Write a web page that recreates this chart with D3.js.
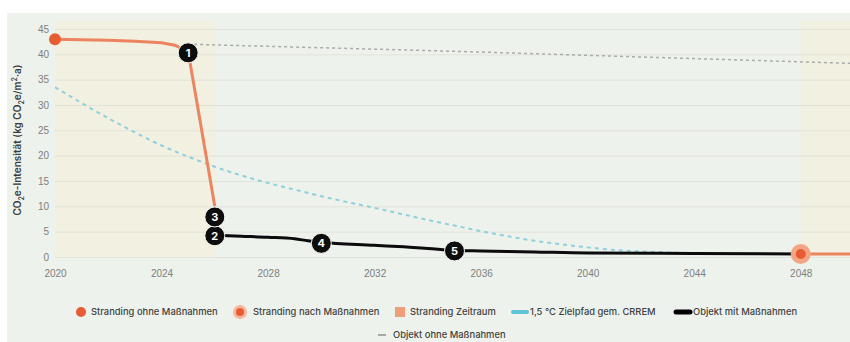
<!DOCTYPE html>
<html>
<head>
<meta charset="utf-8">
<script src="https://cdn.jsdelivr.net/npm/d3@7"></script>
<style>
  body { margin: 0; background: #fff; }
  svg { display: block; font-family: "Inter", "Noto Sans", sans-serif; }
</style>
</head>
<body>
<svg id="viz" width="850" height="342"></svg>
<script>
// Data

var xTicks = [2020, 2024, 2028, 2032, 2036, 2040, 2044, 2048];
var yTicks = [0, 5, 10, 15, 20, 25, 30, 35, 40, 45];

var strandingPeriods = [[2020, 2026], [2048, 2050]];

var ohneMassnahmen = [
	[2020, 43], [2021, 42.9], [2022, 42.8], [2023, 42.6], [2024, 42.3], [2024.5, 41.8], [2025, 40.5],
	[2026, 10]
];
var nachMassnahmen = [[2048, 0.6], [2050, 0.6]];

var zielpfad = [
	[2020, 33.5], [2021, 30.4], [2022, 27.4], [2023, 24.6], [2024, 22], [2025, 19.8], [2026, 17.8],
	[2027, 16.1], [2028, 14.6], [2029, 13.3], [2030, 12], [2031, 10.8], [2032, 9.7], [2033, 8.5],
	[2034, 7.3], [2035, 6.2], [2036, 5.1], [2037, 4.1], [2038, 3.2], [2039, 2.5], [2040, 1.9],
	[2041, 1.4], [2042, 1.1], [2043, 0.9], [2044, 0.7], [2045, 0.6], [2046, 0.6]
];

var mitMassnahmen = [
	[2026, 4.3], [2027, 4.1], [2028, 3.9], [2029, 3.6], [2029.5, 3.2], [2030, 2.9], [2032, 2.3],
	[2034, 1.7], [2035, 1.3], [2036, 1.2], [2038, 1], [2040, 0.8], [2044, 0.7], [2048, 0.6]
];

var objektOhne = [[2025, 42], [2030, 41.3], [2035, 40.6], [2040, 39.8], [2045, 39], [2050, 38.2]];

var markers = [
	{ label: "1", year: 2025, value: 40.3 },
	{ label: "2", year: 2026, value: 4.2 },
	{ label: "3", year: 2026, value: 7.9 },
	{ label: "4", year: 2030, value: 2.7 },
	{ label: "5", year: 2035, value: 1.2 }
];

var legendItems = [
	{ label: "Stranding ohne Maßnahmen", type: "dot", x: 81, y: 312 },
	{ label: "Stranding nach Maßnahmen", type: "halo", x: 240, y: 312 },
	{ label: "Stranding Zeitraum", type: "square", x: 400, y: 312 },
	{ label: "1,5 °C Zielpfad gem. CRREM", type: "blue", x: 520, y: 312 },
	{ label: "Objekt mit Maßnahmen", type: "black", x: 683, y: 312 },
	{ label: "Objekt ohne Maßnahmen", type: "grey", x: 382, y: 335 }
];

var orange = "#e85c33",
	orangeLine = "#ec8460",
	blue = "#8fd0dc",
	grey = "#a9acab";

var svg = d3.select("#viz");

// Panel background
svg.append("rect")
	.attr("x", 7).attr("y", 13)
	.attr("width", 843).attr("height", 329)
	.attr("fill", "#eef2ec");

var x = d3.scaleLinear().domain([2020, 2050]).range([55, 854]);
var y = d3.scaleLinear().domain([0, 45]).range([257, 29]);

// Stranding period shading
svg.append("g")
	.selectAll("rect")
	.data(strandingPeriods)
	.enter()
	.append("rect")
	.attr("x", d => x(d[0]))
	.attr("y", y(45) - 8)
	.attr("width", d => x(d[1]) - x(d[0]))
	.attr("height", y(0) - y(45) + 8)
	.attr("fill", "#f3efdb")
	.attr("opacity", 0.6);

// Gridlines
svg.append("g")
	.attr("transform", "translate(55,0)")
	.call(d3.axisLeft(y).tickValues(yTicks).tickSize(-(850 - 55)).tickFormat(""))
	.call(g => g.select(".domain").remove())
	.call(g => g.selectAll("line").attr("stroke", "#e2e3d9").attr("stroke-width", 1));

// Y tick labels
svg.append("g")
	.attr("transform", "translate(49,0)")
	.call(d3.axisLeft(y).tickValues(yTicks).tickSize(0).tickPadding(0))
	.call(g => g.select(".domain").remove())
	.call(g => g.selectAll("text").attr("fill", "#7d807d").attr("font-size", 10));

// X tick labels
svg.append("g")
	.attr("transform", "translate(0,268)")
	.call(d3.axisBottom(x).tickValues(xTicks).tickFormat(d3.format("d")).tickSize(0).tickPadding(2))
	.call(g => g.select(".domain").remove())
	.call(g => g.selectAll("text").attr("fill", "#7d807d").attr("font-size", 10));

// Y axis title
var yTitle = svg.append("text")
	.attr("transform", "translate(21,140) rotate(-90)")
	.attr("text-anchor", "middle")
	.attr("font-size", 10)
	.attr("font-weight", "600")
	.attr("fill", "#3a3d3b");
yTitle.append("tspan").text("CO");
yTitle.append("tspan").text("2").attr("font-size", 7).attr("dy", 3);
yTitle.append("tspan").text("e-Intensität (kg CO").attr("dy", -3);
yTitle.append("tspan").text("2").attr("font-size", 7).attr("dy", 3);
yTitle.append("tspan").text("e/m").attr("dy", -3);
yTitle.append("tspan").text("2").attr("font-size", 7).attr("dy", -4);
yTitle.append("tspan").text("·a)").attr("dy", 4);

var line = d3.line().x(d => x(d[0])).y(d => y(d[1])).curve(d3.curveMonotoneX);
var straight = d3.line().x(d => x(d[0])).y(d => y(d[1]));

// Objekt ohne Maßnahmen
svg.append("path")
	.attr("d", line(objektOhne))
	.attr("fill", "none")
	.attr("stroke", grey)
	.attr("stroke-width", 1.5)
	.attr("stroke-dasharray", "3,3");

// 1,5 °C Zielpfad
svg.append("path")
	.attr("d", line(zielpfad))
	.attr("fill", "none")
	.attr("stroke", blue)
	.attr("stroke-width", 2)
	.attr("stroke-dasharray", "4,4");

// Stranding ohne Maßnahmen line
svg.append("path")
	.attr("d", straight(ohneMassnahmen))
	.attr("fill", "none")
	.attr("stroke", orangeLine)
	.attr("stroke-width", 3)
	.attr("stroke-linejoin", "round");

// Objekt mit Maßnahmen
svg.append("path")
	.attr("d", line(mitMassnahmen))
	.attr("fill", "none")
	.attr("stroke", "#0b0b0b")
	.attr("stroke-width", 3);

// Stranding nach Maßnahmen continuation
svg.append("path")
	.attr("d", straight(nachMassnahmen))
	.attr("fill", "none")
	.attr("stroke", orangeLine)
	.attr("stroke-width", 3);

// Stranding dots
svg.append("circle")
	.attr("cx", x(ohneMassnahmen[0][0])).attr("cy", y(ohneMassnahmen[0][1]))
	.attr("r", 6).attr("fill", orange);

svg.append("circle")
	.attr("cx", x(nachMassnahmen[0][0])).attr("cy", y(nachMassnahmen[0][1]))
	.attr("r", 10).attr("fill", "#f3a585");
svg.append("circle")
	.attr("cx", x(nachMassnahmen[0][0])).attr("cy", y(nachMassnahmen[0][1]))
	.attr("r", 5).attr("fill", orange);

// Numbered markers
var mk = svg.append("g")
	.selectAll("g")
	.data(markers)
	.enter()
	.append("g")
	.attr("transform", d => "translate(" + x(d.year) + "," + y(d.value) + ")");

mk.append("circle")
	.attr("r", 10)
	.attr("fill", "#0d0d0d")
	.attr("stroke", "#f4f5f1")
	.attr("stroke-width", 1);

mk.append("text")
	.attr("text-anchor", "middle")
	.attr("dy", "0.36em")
	.attr("fill", "#fff")
	.attr("font-size", 11)
	.attr("font-weight", "700")
	.text(d => d.label);

// Legend
var lg = svg.append("g")
	.selectAll("g")
	.data(legendItems)
	.enter()
	.append("g")
	.attr("transform", d => "translate(" + d.x + "," + d.y + ")");

lg.each(function(d) {
	var g = d3.select(this);
	if (d.type == "dot")
		g.append("circle").attr("r", 5).attr("fill", orange);
	else if (d.type == "halo") {
		g.append("circle").attr("r", 7).attr("fill", "#f6b89c");
		g.append("circle").attr("r", 4).attr("fill", orange);
	}
	else if (d.type == "square")
		g.append("rect").attr("x", -5).attr("y", -5).attr("width", 10).attr("height", 10).attr("fill", "#ee9e7a");
	else if (d.type == "blue")
		g.append("line").attr("x1", -7).attr("x2", 7).attr("stroke", "#5cc3d8").attr("stroke-width", 4).attr("stroke-linecap", "round");
	else if (d.type == "black")
		g.append("line").attr("x1", -7).attr("x2", 7).attr("stroke", "#000").attr("stroke-width", 5).attr("stroke-linecap", "round");
	else
		g.append("line").attr("x1", -4).attr("x2", 4).attr("stroke", "#a7aaa8").attr("stroke-width", 2);
});

lg.append("text")
	.attr("x", d => d.type == "halo" ? 13 : (d.type == "grey" ? 11 : 10))
	.attr("dy", "0.35em")
	.attr("font-size", 9.4)
	.attr("font-weight", "500")
	.attr("fill", "#3f4241")
	.text(d => d.label);
</script>
</body>
</html>
